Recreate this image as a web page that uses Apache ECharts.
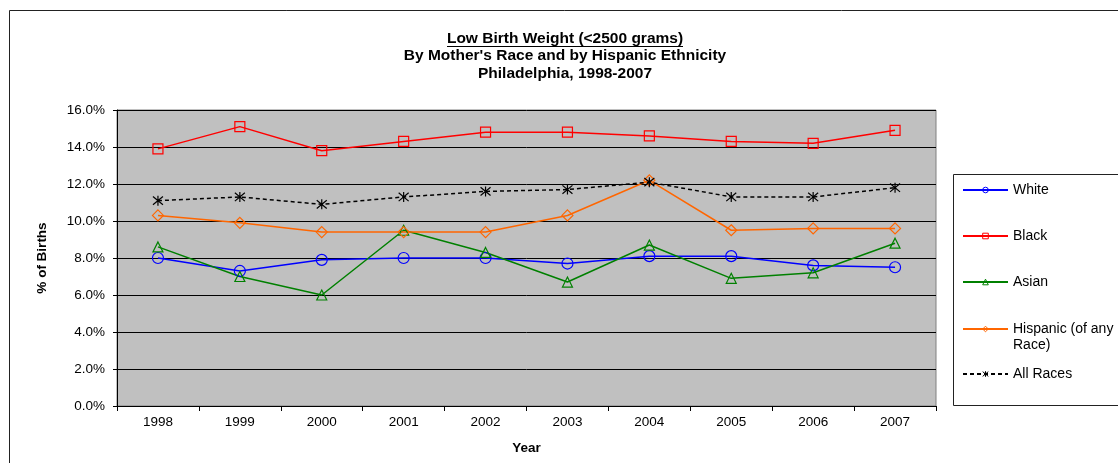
<!DOCTYPE html>
<html>
<head>
<meta charset="utf-8">
<script src="https://cdn.jsdelivr.net/npm/echarts@6/dist/echarts.min.js"></script>
<style>html,body{margin:0;padding:0;background:#fff;}#c{width:1118px;height:463px;}</style>
</head>
<body>
<div id="c"></div>
<script>
const years = ['1998','1999','2000','2001','2002','2003','2004','2005','2006','2007'];
const white = [8.0, 7.3, 7.9, 8.0, 8.0, 7.7, 8.1, 8.1, 7.6, 7.5];
const black = [13.9, 15.1, 13.8, 14.3, 14.8, 14.8, 14.6, 14.3, 14.2, 14.9];
const asian = [8.6, 7.0, 6.0, 9.5, 8.3, 6.7, 8.7, 6.9, 7.2, 8.8];
const hispanic = [10.3, 9.9, 9.4, 9.4, 9.4, 10.3, 12.2, 9.5, 9.6, 9.6];
const allRaces = [11.1, 11.3, 10.9, 11.3, 11.6, 11.7, 12.1, 11.3, 11.3, 11.8];
const seriesNames = ['White', 'Black', 'Asian', 'Hispanic (of any Race)', 'All Races'];
const yTicks = { min: 0, max: 16, interval: 2 };

const FONT = 'Arial, "Liberation Sans", sans-serif';
const chart = echarts.init(document.getElementById('c'));

const asterisk = 'path://M0,0L10,10M10,0L0,10M5,-1L5,11';

function mkSeries(name, data, color, symbol, size, dashed) {
  return {
    name: name, type: 'line', data: data,
    symbol: symbol, symbolSize: size,
    lineStyle: { color: color, width: 1.5, type: dashed ? [4, 3] : 'solid' },
    itemStyle: { color: 'rgba(0,0,0,0)', borderColor: color, borderWidth: 1.2 },
    emphasis: { disabled: true },
    animation: false, z: 3
  };
}

const legendTops = [182, 228, 274, 305, 366];
const legends = seriesNames.map((n, i) => ({
  data: [n],
  orient: 'vertical',
  left: 962,
  top: legendTops[i],
  padding: 0,
  itemWidth: 45,
  itemHeight: 7,
  itemGap: 5,
  selectedMode: false,
  itemStyle: { color: 'rgba(0,0,0,0)', borderWidth: 1 },
  formatter: (name) => name === 'Hispanic (of any Race)' ? ' \nHispanic (of any\nRace)' : name,
  textStyle: { fontFamily: FONT, fontSize: 14, color: '#000', lineHeight: 16 }
}));

chart.setOption({
  backgroundColor: '#fff',
  animation: false,
  title: {
    text: 'Low Birth Weight (<2500 grams)\nBy Mother\'s Race and by Hispanic Ethnicity\nPhiladelphia, 1998-2007',
    left: 565, top: 29.5, padding: 0,
    textAlign: 'center',
    textStyle: { fontFamily: FONT, fontSize: 15.5, fontWeight: 'bold', color: '#000', lineHeight: 17.5 }
  },
  legend: legends,
  grid: {
    left: 117, right: 182, top: 110, bottom: 57,
    show: true, backgroundColor: '#c0c0c0', borderColor: '#808080', borderWidth: 1
  },
  xAxis: {
    type: 'category', data: years, boundaryGap: true,
    name: 'Year', nameLocation: 'middle', nameGap: 35,
    nameTextStyle: { fontFamily: FONT, fontSize: 13.5, fontWeight: 'bold', color: '#000' },
    axisLine: { lineStyle: { color: '#000', width: 1 } },
    axisTick: { show: true, length: 5, alignWithLabel: false, lineStyle: { color: '#000' } },
    axisLabel: { fontFamily: FONT, fontSize: 13.5, color: '#000', margin: 9 },
    splitLine: { show: false }
  },
  yAxis: {
    type: 'value', min: yTicks.min, max: yTicks.max, interval: yTicks.interval,
    name: '% of Births', nameLocation: 'middle', nameGap: 68, nameRotate: 90,
    nameTextStyle: { fontFamily: FONT, fontSize: 13.5, fontWeight: 'bold', color: '#000' },
    axisLine: { show: true, lineStyle: { color: '#000', width: 1 } },
    axisTick: { show: true, length: 4, lineStyle: { color: '#000' } },
    axisLabel: { fontFamily: FONT, fontSize: 13.5, color: '#000', margin: 12,
      formatter: (v) => v.toFixed(1) + '%' },
    splitLine: { show: true, lineStyle: { color: '#000', width: 1 } }
  },
  series: [
    mkSeries(seriesNames[0], white, '#0000ff', 'circle', 11, false),
    mkSeries(seriesNames[1], black, '#ff0000', 'rect', 10, false),
    mkSeries(seriesNames[2], asian, '#008000', 'triangle', 10, false),
    mkSeries(seriesNames[3], hispanic, '#ff6600', 'diamond', 11, false),
    mkSeries(seriesNames[4], allRaces, '#000000', asterisk, 10, true)
  ],
  graphic: [
    { type: 'rect', silent: true, z: 0, shape: { x: 9.5, y: 10.5, width: 1200, height: 600 },
      style: { fill: 'none', stroke: '#222', lineWidth: 1 } },
    { type: 'rect', silent: true, z: 0, shape: { x: 953.5, y: 174.5, width: 300, height: 231 },
      style: { fill: 'none', stroke: '#222', lineWidth: 1 } },
    { type: 'rect', silent: true, z: 10, shape: { x: 447, y: 46, width: 236, height: 1 },
      style: { fill: '#000' } }
  ]
});
</script>
</body>
</html>
